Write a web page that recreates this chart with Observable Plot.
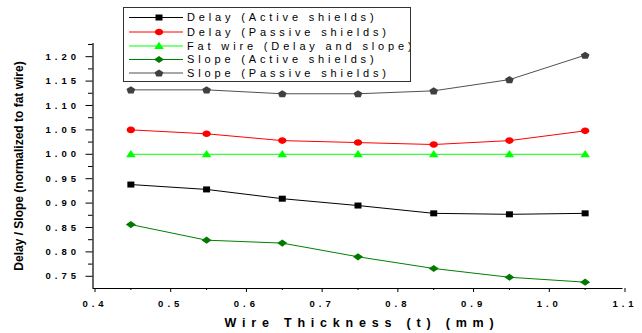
<!DOCTYPE html>
<html><head><meta charset="utf-8">
<script src="https://cdn.jsdelivr.net/npm/d3@7"></script>
<script src="https://cdn.jsdelivr.net/npm/@observablehq/plot@0.6"></script>
<style>
body{margin:0;background:#fff}
#wrap{position:relative;width:642px;height:333px;font-family:"Liberation Sans",Arial,sans-serif}
#wrap svg text{font-family:"Liberation Sans",Arial,sans-serif}
g[aria-label="y-axis tick label"] text, g[aria-label="x-axis tick label"] text{letter-spacing:4px}
#legend{position:absolute;left:123px;top:7px;width:286px;height:73px;border:1px solid #333;background:#fff;overflow:hidden}
#legend text{font-size:11px;letter-spacing:3.85px;fill:#000}
</style></head><body>
<div id="wrap"><div id="legend"></div></div>
<script>
// Data
const thickness = [0.45, 0.55, 0.65, 0.75, 0.85, 0.95, 1.05];
const delayActive  = [0.938, 0.928, 0.909, 0.895, 0.879, 0.877, 0.879];
const delayPassive = [1.050, 1.042, 1.028, 1.024, 1.020, 1.028, 1.048];
const fatWire      = [1.000, 1.000, 1.000, 1.000, 1.000, 1.000, 1.000];
const slopeActive  = [0.856, 0.824, 0.818, 0.790, 0.766, 0.748, 0.738];
const slopePassive = [1.132, 1.132, 1.124, 1.124, 1.130, 1.153, 1.203];
const seriesNames = ["Delay (Active shields)", "Delay (Passive shields)", "Fat wire (Delay and slope)", "Slope (Active shields)", "Slope (Passive shields)"];
const seriesValues = [delayActive, delayPassive, fatWire, slopeActive, slopePassive];
const xTicks = [0.4, 0.5, 0.6, 0.7, 0.8, 0.9, 1.0, 1.1];
const xMinorTicks = [0.45, 0.55, 0.65, 0.75, 0.85, 0.95, 1.05];
const yTicks = [0.75, 0.80, 0.85, 0.90, 0.95, 1.00, 1.05, 1.10, 1.15, 1.20];
const yMinorTicks = [0.775, 0.825, 0.875, 0.925, 0.975, 1.025, 1.075, 1.125, 1.175, 1.225];
const xTitle = "Wire Thickness (t) (mm)";
const yTitle = "Delay / Slope (normalized to fat wire)";

// Styles
const lineColors = ["#000000", "#ff0000", "#00ff00", "#008000", "#505050"];
const markColors = ["#000000", "#ff0000", "#00ff00", "#007a00", "#404040"];
const poly = (pts) => ({draw(ctx){ ctx.moveTo(pts[0][0], pts[0][1]); for (const p of pts.slice(1)) ctx.lineTo(p[0], p[1]); ctx.closePath(); }});
const symSquare = poly([[-3.5,-3],[3.5,-3],[3.5,3],[-3.5,3]]);
const symEllipse = {draw(ctx){ const rx=4.2, ry=3.3, k=0.5523;
  ctx.moveTo(rx,0);
  ctx.bezierCurveTo(rx, ry*k, rx*k, ry, 0, ry);
  ctx.bezierCurveTo(-rx*k, ry, -rx, ry*k, -rx, 0);
  ctx.bezierCurveTo(-rx, -ry*k, -rx*k, -ry, 0, -ry);
  ctx.bezierCurveTo(rx*k, -ry, rx, -ry*k, rx, 0);
  ctx.closePath(); }};
const symTriangle = poly([[0,-4.2],[4.8,3],[-4.8,3]]);
const symDiamond = poly([[-5,0],[0,-3.6],[5,0],[0,3.6]]);
const symPentagon = poly(d3.range(5).map(k => { const a = -Math.PI/2 + k*2*Math.PI/5; return [4.6*Math.cos(a), 3.9*Math.sin(a) + 0.4]; }));
const symbols = [symSquare, symEllipse, symTriangle, symDiamond, symPentagon];

const rows = [];
seriesValues.forEach((vals, s) => vals.forEach((v, i) => rows.push({series: s, x: thickness[i], y: v})));

const marks = [];
seriesValues.forEach((vals, s) => {
  const d = rows.filter(r => r.series === s);
  marks.push(Plot.line(d, {x: "x", y: "y", stroke: lineColors[s], strokeWidth: 1}));
});
seriesValues.forEach((vals, s) => {
  const d = rows.filter(r => r.series === s);
  marks.push(Plot.dot(d, {x: "x", y: "y", symbol: () => symbols[s], fill: markColors[s], stroke: "none", r: 4}));
});

const chart = Plot.plot({
  width: 642, height: 333,
  marginLeft: 92.5, marginRight: 19.5, marginTop: 43, marginBottom: 45,
  style: {fontFamily: "Liberation Sans, Arial, sans-serif", fontSize: "9.5px", fontWeight: "bold", background: "#fff", color: "#000"},
  x: {domain: [0.4, 1.1]},
  y: {domain: [0.725, 1.227]},
  symbol: {type: "identity"},
  marks: [
    Plot.ruleX([0.4], {stroke: "#000", strokeWidth: 1.2}),
    Plot.ruleY([0.725], {stroke: "#000", strokeWidth: 1.2}),
    Plot.axisY({ticks: yMinorTicks, tickSize: 4.5, tickFormat: () => "", label: null, stroke: "#000"}),
    Plot.axisY({ticks: yTicks, tickSize: 7, tickPadding: 6, tickFormat: d3.format(".2f"), label: null, stroke: "#000", fill: "#000"}),
    Plot.axisX({ticks: xMinorTicks, tickSize: 2, tickFormat: () => "", label: null, stroke: "#000"}),
    Plot.axisX({ticks: xTicks, tickSize: 4, tickPadding: 8, tickFormat: d3.format(".1f"), label: null, stroke: "#000", fill: "#000", dx: 2}),
    Plot.text([xTitle], {frameAnchor: "bottom", textAnchor: "middle", lineAnchor: "middle", dy: 34, dx: 4, fontSize: 12.5, fontWeight: "bold", fill: "#000"}),
    Plot.text([yTitle], {frameAnchor: "left", textAnchor: "middle", lineAnchor: "middle", rotate: -90, dx: -73.5, fontSize: 12, fontWeight: "bold", fill: "#000"}),
    ...marks
  ]
});
document.getElementById("wrap").prepend(chart);
d3.select(chart).selectAll("text").filter(function(){ return this.textContent === xTitle; }).style("letter-spacing", "5.8px");

// Legend
const lg = d3.select("#legend").append("svg").attr("width", 286).attr("height", 73);
const rowY = [9.5, 24, 38, 51.5, 65];
seriesNames.forEach((name, s) => {
  const g = lg.append("g").attr("transform", `translate(0,${rowY[s]})`);
  g.append("line").attr("x1", 5).attr("x2", 59).attr("y1", 0).attr("y2", 0).attr("stroke", lineColors[s]).attr("stroke-width", 1);
  g.append("path").attr("transform", "translate(35,0)").attr("d", d3.symbol().type(symbols[s])()).attr("fill", markColors[s]);
  g.append("text").attr("x", 63).attr("y", 0).attr("dy", "0.36em").text(name);
});
</script>
</body></html>
